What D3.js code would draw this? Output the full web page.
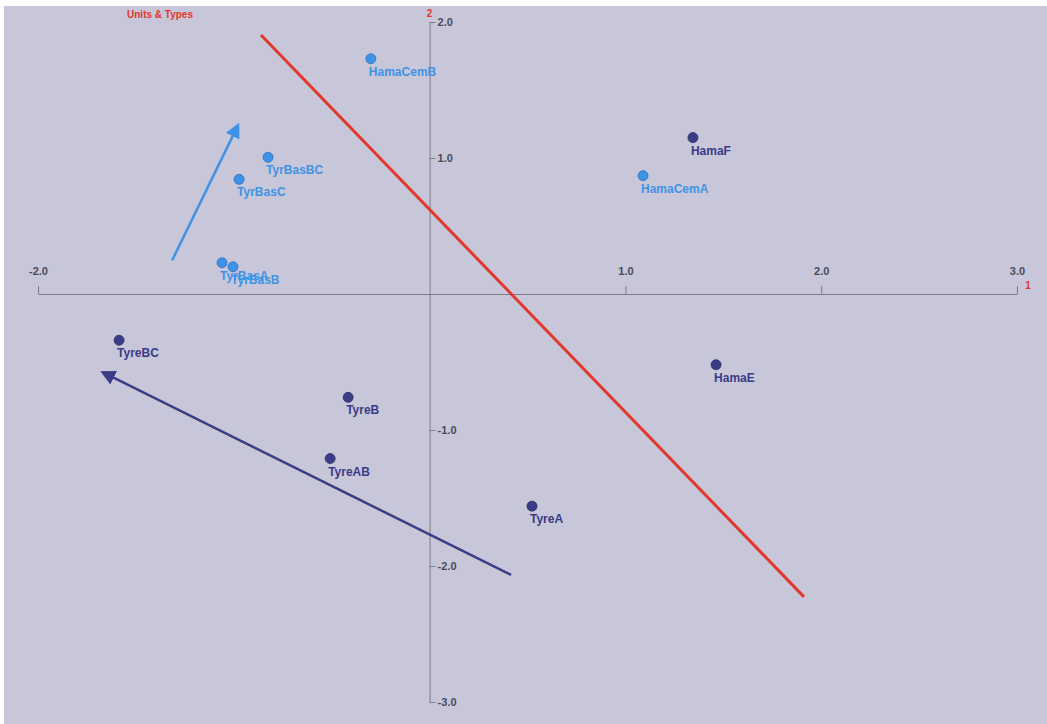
<!DOCTYPE html>
<html>
<head>
<meta charset="utf-8">
<script src="https://cdn.jsdelivr.net/npm/d3@7"></script>
<style>
html,body{margin:0;padding:0;background:#fff;}
svg{display:block;}
</style>
</head>
<body>
<svg id="chart" width="1047" height="724"></svg>
<script>
// ---- data ----
const pointNames = ["HamaCemB","TyrBasBC","TyrBasC","TyrBasA","TyrBasB","HamaCemA",
                    "HamaF","HamaE","TyreBC","TyreB","TyreAB","TyreA"];
const pointX = [-0.30,-0.825,-0.973,-1.06,-1.004,1.09, 1.345,1.463,-1.586,-0.416,-0.508,0.523];
const pointY = [1.73,1.005,0.843,0.23,0.20,0.87, 1.15,-0.52,-0.34,-0.76,-1.21,-1.56];
const pointGroup = ["light","light","light","light","light","light",
                    "dark","dark","dark","dark","dark","dark"];
const xTickValues = [-2,1,2,3];
const xTickLabels = ["-2.0","1.0","2.0","3.0"];
const yTickValues = [2,1,-1,-2,-3];
const yTickLabels = ["2.0","1.0","-1.0","-2.0","-3.0"];
// separating line and direction arrows (data coordinates)
const redLineX = [-0.861, 1.912];
const redLineY = [1.904, -2.227];
const lightArrowX = [-1.315, -0.979];
const lightArrowY = [0.247, 1.24];
const darkArrowX = [0.416, -1.668];
const darkArrowY = [-2.065, -0.577];

const colors = {light:"#3f93e6", dark:"#3a3c86", red:"#e2382b", axis:"#7c7c88", tick:"#4a4a56"};

const svg = d3.select("#chart");
const W = 1047, H = 724;
svg.append("rect").attr("width",W).attr("height",H).attr("fill","#ffffff");
svg.append("rect").attr("x",4).attr("y",6).attr("width",W-4).attr("height",H-6).attr("fill","#c8c6d9");

const x = d3.scaleLinear().domain([-2,3]).range([38,1017]);
const y = d3.scaleLinear().domain([-3,2]).range([702,22]);

// x axis
const xAxis = d3.axisTop(x).tickValues(xTickValues).tickFormat((d,i)=>xTickLabels[i]).tickSize(8).tickSizeOuter(0);
const gx = svg.append("g").attr("transform",`translate(0,${y(0)})`).call(xAxis);
gx.select(".domain").attr("stroke",colors.axis).attr("stroke-width",1);
gx.selectAll(".tick line").attr("stroke",colors.axis);
gx.selectAll(".tick text").attr("fill",colors.tick).attr("font-family","Liberation Sans, Arial, sans-serif")
  .attr("font-size",11).attr("font-weight","bold").attr("dy","-8");

// y axis
const yAxis = d3.axisRight(y).tickValues(yTickValues).tickFormat((d,i)=>yTickLabels[i]).tickSize(6).tickSizeOuter(0);
const gy = svg.append("g").attr("transform",`translate(${x(0)},0)`).call(yAxis);
gy.select(".domain").attr("stroke",colors.axis).attr("stroke-width",1);
gy.selectAll(".tick line").attr("stroke",colors.axis);
gy.selectAll(".tick text").attr("fill",colors.tick).attr("font-family","Liberation Sans, Arial, sans-serif")
  .attr("font-size",11).attr("font-weight","bold").attr("x",8);

// axis names
svg.append("text").attr("x",x(0)).attr("y",y(2)-5).attr("text-anchor","middle")
  .attr("fill",colors.red).attr("font-family","Liberation Sans, Arial, sans-serif").attr("font-size",10).attr("font-weight","bold").text("2");
svg.append("text").attr("x",x(3)+11).attr("y",y(0)-5).attr("text-anchor","middle")
  .attr("fill",colors.red).attr("font-family","Liberation Sans, Arial, sans-serif").attr("font-size",10).attr("font-weight","bold").text("1");
svg.append("text").attr("x",160).attr("y",18).attr("text-anchor","middle")
  .attr("fill",colors.red).attr("font-family","Liberation Sans, Arial, sans-serif").attr("font-size",10).attr("font-weight","bold").text("Units & Types");

// markers
const defs = svg.append("defs");
function marker(id,color){
  defs.append("marker").attr("id",id).attr("viewBox","0 0 10 10").attr("refX",8).attr("refY",5)
    .attr("markerWidth",6).attr("markerHeight",6).attr("orient","auto")
    .append("path").attr("d","M0,0 L10,5 L0,10 Z").attr("fill",color);
}
marker("arrLight",colors.light);
marker("arrDark",colors.dark);

const line = d3.line().x(d=>x(d[0])).y(d=>y(d[1]));
svg.append("path").attr("d",line(redLineX.map((v,i)=>[v,redLineY[i]])))
  .attr("stroke",colors.red).attr("stroke-width",3).attr("fill","none");
svg.append("path").attr("d",line(lightArrowX.map((v,i)=>[v,lightArrowY[i]])))
  .attr("stroke",colors.light).attr("stroke-width",2.5).attr("fill","none").attr("marker-end","url(#arrLight)");
svg.append("path").attr("d",line(darkArrowX.map((v,i)=>[v,darkArrowY[i]])))
  .attr("stroke",colors.dark).attr("stroke-width",2.5).attr("fill","none").attr("marker-end","url(#arrDark)");

// points
const pts = pointNames.map((n,i)=>({name:n,x:pointX[i],y:pointY[i],g:pointGroup[i]}));
const gp = svg.append("g");
gp.selectAll("circle").data(pts).join("circle")
  .attr("cx",d=>x(d.x)).attr("cy",d=>y(d.y)).attr("r",5)
  .attr("fill",d=>colors[d.g]).attr("stroke",d=>d.g==="light"?"#2f6fb8":"#2b2d66").attr("stroke-width",0.8);
gp.selectAll("text").data(pts).join("text")
  .attr("x",d=>x(d.x)-2).attr("y",d=>y(d.y)+17)
  .attr("fill",d=>colors[d.g]).attr("font-family","Liberation Sans, Arial, sans-serif")
  .attr("font-size",12).attr("font-weight","bold").text(d=>d.name);
</script>
</body>
</html>
